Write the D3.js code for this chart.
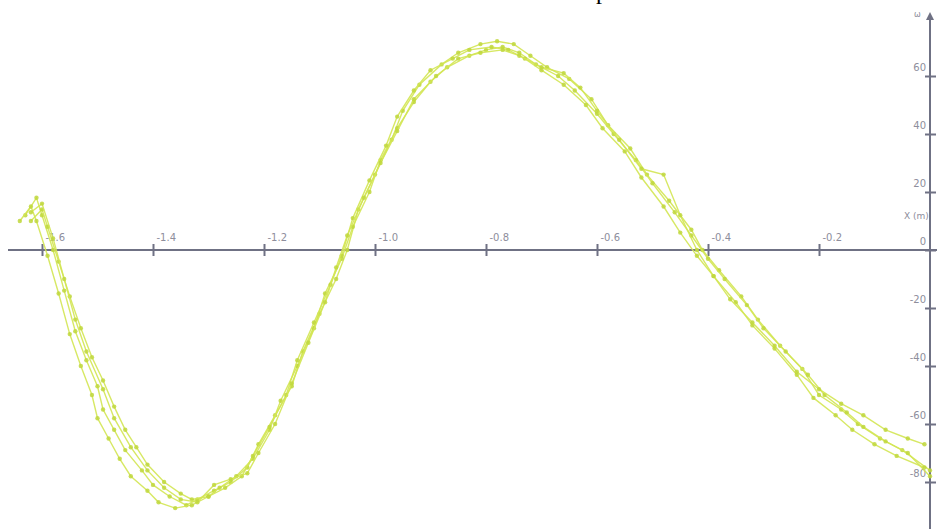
<!DOCTYPE html>
<html>
<head>
<meta charset="utf-8">
<script src="https://cdnjs.cloudflare.com/ajax/libs/d3/7.8.5/d3.min.js"></script>
<style>
  body { margin: 0; background: #fff; }
  .chart text { font-family: "DejaVu Sans", sans-serif; fill: #8e8e9c; }
</style>
</head>
<body>
<div class="chart"></div>
<script>
const width = 937;
const height = 529;

// x in metres, y in degrees
const xTicks = [-1.6, -1.4, -1.2, -1.0, -0.8, -0.6, -0.4, -0.2];
const yTicks = [-80, -60, -40, -20, 0, 20, 40, 60];

const trial1 = [[-1.63,12],[-1.61,18],[-1.60,12],[-1.58,0],[-1.56,-14],[-1.54,-28],[-1.52,-38],[-1.50,-47],[-1.49,-55],[-1.47,-62],[-1.45,-69],[-1.42,-76],[-1.40,-81],[-1.37,-85],[-1.34,-88],[-1.32,-86],[-1.29,-83],[-1.26,-80],[-1.23,-75],[-1.21,-67],[-1.18,-57],[-1.15,-47],[-1.13,-35],[-1.10,-22],[-1.07,-10],[-1.05,0],[-1.03,14],[-1.00,26],[-0.97,38],[-0.95,48],[-0.92,57],[-0.88,64],[-0.85,68],[-0.81,71],[-0.78,72],[-0.75,71],[-0.72,67],[-0.69,63],[-0.65,59],[-0.61,52],[-0.58,43],[-0.54,35],[-0.51,26],[-0.47,17],[-0.43,7],[-0.41,0],[-0.38,-7],[-0.34,-16],[-0.31,-24],[-0.27,-33],[-0.23,-41],[-0.20,-50],[-0.16,-55],[-0.13,-60],[-0.09,-65],[-0.05,-69],[0.00,-76]];

const trial2 = [[-1.62,10],[-1.60,14],[-1.59,8],[-1.57,-4],[-1.55,-16],[-1.53,-27],[-1.51,-37],[-1.49,-45],[-1.47,-54],[-1.45,-62],[-1.43,-68],[-1.41,-74],[-1.38,-80],[-1.35,-84],[-1.33,-86],[-1.30,-85],[-1.28,-82],[-1.25,-78],[-1.22,-72],[-1.19,-62],[-1.17,-52],[-1.14,-40],[-1.11,-27],[-1.09,-15],[-1.06,-3],[-1.04,8],[-1.01,20],[-0.99,31],[-0.96,42],[-0.93,51],[-0.90,58],[-0.87,63],[-0.83,67],[-0.80,69],[-0.77,70],[-0.74,68],[-0.71,64],[-0.67,60],[-0.64,55],[-0.60,47],[-0.57,40],[-0.53,31],[-0.50,23],[-0.46,13],[-0.43,5],[-0.40,-3],[-0.37,-10],[-0.33,-19],[-0.30,-27],[-0.26,-35],[-0.22,-43],[-0.19,-50],[-0.15,-56],[-0.12,-61],[-0.08,-66],[-0.04,-70],[0.00,-78]];

const trial3 = [[-1.64,10],[-1.62,15],[-1.61,10],[-1.59,-2],[-1.57,-15],[-1.55,-29],[-1.53,-40],[-1.51,-50],[-1.50,-58],[-1.48,-65],[-1.46,-72],[-1.44,-78],[-1.41,-83],[-1.39,-87],[-1.36,-89],[-1.33,-88],[-1.30,-85],[-1.27,-82],[-1.24,-78],[-1.22,-71],[-1.19,-61],[-1.16,-50],[-1.14,-38],[-1.11,-25],[-1.08,-12],[-1.06,-2],[-1.04,11],[-1.01,24],[-0.98,36],[-0.96,46],[-0.93,55],[-0.90,62],[-0.86,66],[-0.83,69],[-0.79,70],[-0.76,69],[-0.73,66],[-0.70,62],[-0.66,57],[-0.62,50],[-0.59,42],[-0.55,34],[-0.52,25],[-0.48,15],[-0.45,6],[-0.42,-2],[-0.39,-9],[-0.35,-18],[-0.32,-26],[-0.28,-34],[-0.24,-43],[-0.21,-51],[-0.17,-57],[-0.14,-62],[-0.10,-67],[-0.06,-71],[-0.01,-75]];

const trial4 = [[-1.62,13],[-1.60,16],[-1.58,4],[-1.56,-10],[-1.54,-24],[-1.52,-35],[-1.49,-48],[-1.47,-58],[-1.44,-68],[-1.41,-76],[-1.38,-82],[-1.35,-86],[-1.32,-87],[-1.29,-81],[-1.26,-79],[-1.23,-77],[-1.21,-70],[-1.18,-60],[-1.15,-46],[-1.12,-32],[-1.09,-18],[-1.07,-6],[-1.05,5],[-1.02,18],[-0.99,30],[-0.96,41],[-0.93,52],[-0.89,60],[-0.85,66],[-0.81,68],[-0.77,69],[-0.74,67],[-0.70,63],[-0.66,61],[-0.63,56],[-0.60,48],[-0.56,38],[-0.52,28],[-0.48,26],[-0.45,12],[-0.42,0],[-0.39,-9],[-0.36,-17],[-0.32,-25],[-0.28,-33],[-0.24,-42],[-0.20,-48],[-0.16,-53],[-0.12,-57],[-0.08,-62],[-0.04,-65],[-0.01,-67]];

const trials = [trial1, trial2, trial3, trial4];

const svg = d3.select('.chart')
    .append('svg')
    .attr('width', width)
    .attr('height', height);

const xScale = d3.scaleLinear()
    .domain([-1.6, 0])
    .range([42, 930]);

const yScale = d3.scaleLinear()
    .domain([-80, 60])
    .range([482, 76]);

const axisColor = '#6f7184';

// title cut off at the top edge, as in the source
svg.append('text')
    .attr('x', 596)
    .attr('y', -1)
    .style('font-family', '"Liberation Serif", serif')
    .style('font-size', '24px')
    .style('fill', '#000')
    .text('p');

// x axis
const xAxis = d3.axisBottom()
    .scale(xScale)
    .tickValues(xTicks)
    .tickFormat(d => d.toFixed(1));

const gx = svg.append('g')
    .attr('class', 'x-axis')
    .attr('transform', 'translate(0,' + yScale(0) + ')')
    .call(xAxis);

gx.select('.domain').remove();
gx.selectAll('.tick line')
    .attr('y1', -6)
    .attr('y2', 6)
    .attr('stroke', axisColor)
    .attr('stroke-width', 2);
gx.selectAll('.tick text')
    .attr('x', 3)
    .attr('y', -9)
    .attr('dy', 0)
    .attr('text-anchor', 'start')
    .style('font-size', '10px');

svg.append('line')
    .attr('x1', 8)
    .attr('x2', 937)
    .attr('y1', yScale(0))
    .attr('y2', yScale(0))
    .attr('stroke', axisColor)
    .attr('stroke-width', 2);

// y axis
const yAxis = d3.axisLeft()
    .scale(yScale)
    .tickValues(yTicks)
    .tickFormat(d => String(d));

const gy = svg.append('g')
    .attr('class', 'y-axis')
    .attr('transform', 'translate(' + xScale(0) + ',0)')
    .call(yAxis);

gy.select('.domain').remove();
gy.selectAll('.tick line')
    .attr('x1', -5)
    .attr('x2', 6)
    .attr('stroke', axisColor)
    .attr('stroke-width', 2);
gy.selectAll('.tick text')
    .attr('x', -4)
    .attr('y', -6)
    .attr('dy', 0)
    .attr('text-anchor', 'end')
    .style('font-size', '10px');

svg.append('line')
    .attr('x1', xScale(0))
    .attr('x2', xScale(0))
    .attr('y1', 16)
    .attr('y2', height)
    .attr('stroke', axisColor)
    .attr('stroke-width', 2);

svg.append('path')
    .attr('d', 'M' + xScale(0) + ',12 l-4,8 l8,0 z')
    .attr('fill', axisColor);

svg.append('text')
    .attr('x', 914)
    .attr('y', 17)
    .style('font-size', '8px')
    .text('ω');

svg.append('text')
    .attr('x', 904)
    .attr('y', 219)
    .style('font-size', '9px')
    .text('X (m)');

// trials
const line = d3.line()
    .x(d => xScale(d[0]))
    .y(d => yScale(d[1]));

const groups = svg.selectAll('.trial')
    .data(trials)
    .enter()
    .append('g')
    .attr('class', 'trial');

groups.append('path')
    .attr('d', d => line(d))
    .attr('fill', 'none')
    .attr('stroke', '#d3e553')
    .attr('stroke-width', 1.4)
    .attr('stroke-opacity', 0.9);

groups.selectAll('circle')
    .data(d => d)
    .enter()
    .append('circle')
    .attr('cx', d => xScale(d[0]))
    .attr('cy', d => yScale(d[1]))
    .attr('r', 2.2)
    .attr('fill', '#c0d73c')
    .attr('fill-opacity', 0.85);
</script>
</body>
</html>
